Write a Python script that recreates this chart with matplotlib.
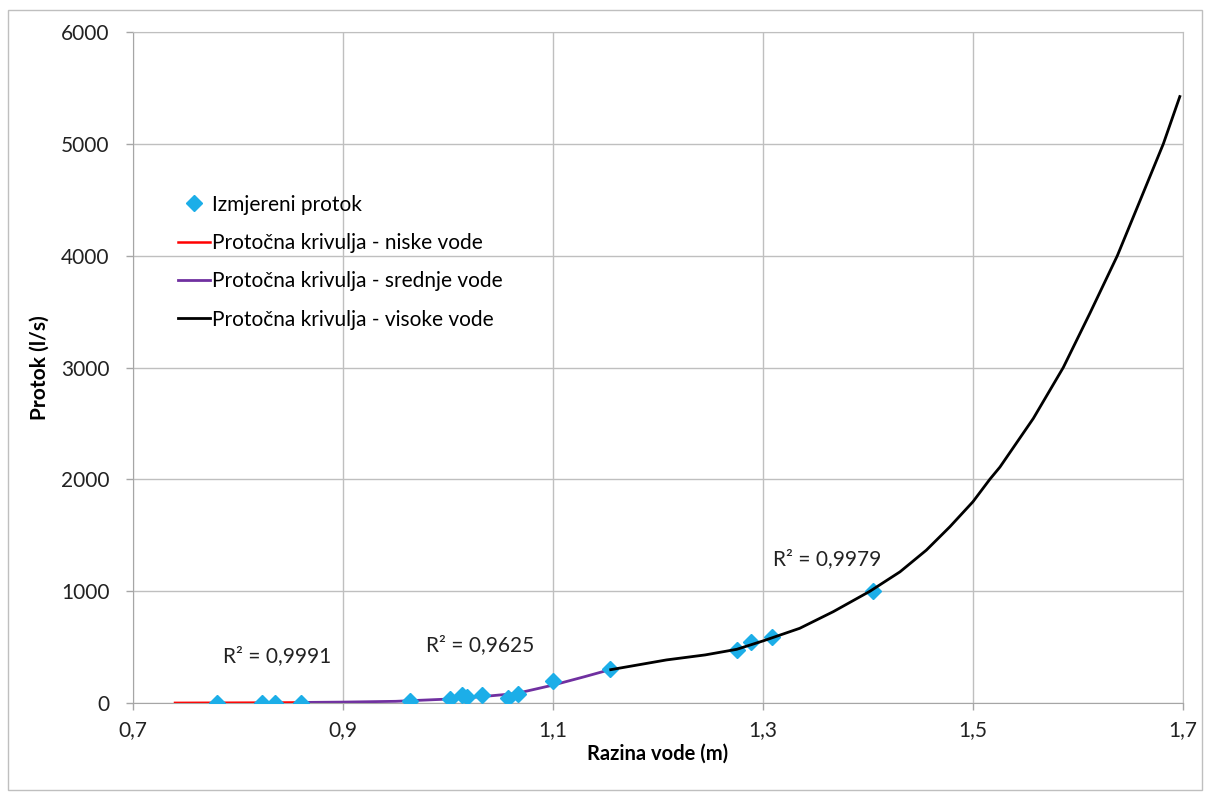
import matplotlib.pyplot as plt
from matplotlib.patches import Rectangle

plt.rcParams['font.family'] = ['Lato', 'DejaVu Sans']

# measured discharge points (water level m, discharge l/s)
razina = [0.78, 0.823, 0.835, 0.86, 0.964, 1.002, 1.013, 1.018, 1.032, 1.057,
          1.067, 1.10, 1.154, 1.275, 1.289, 1.309, 1.405]
protok = [2, 3, 3, 4, 20, 40, 70, 50, 70, 45, 80, 195, 300, 475, 545, 590, 1000]

# rating curves
niske_x = [0.74, 0.78, 0.82, 0.862]
niske_y = [1, 2, 3, 5]
srednje_x = [0.862, 0.9, 0.95, 1.0, 1.03, 1.065, 1.1, 1.13, 1.155]
srednje_y = [5, 8, 15, 35, 55, 85, 160, 235, 300]
visoke_x = [1.155, 1.208, 1.245, 1.275, 1.300, 1.335, 1.367, 1.402, 1.4305, 1.4556,
            1.478, 1.5, 1.516, 1.5257, 1.5575, 1.586, 1.6114, 1.6375, 1.659, 1.6813, 1.697]
visoke_y = [298, 385, 430, 480, 555, 668, 817, 1000, 1173, 1367,
            1576, 1800, 2000, 2110, 2545, 3000, 3486, 4000, 4490, 5000, 5423]

r2_labels = ['R² = 0,9991', 'R² = 0,9625', 'R² = 0,9979']
r2_pos = [(0.837, 420), (1.0305, 520), (1.361, 1290)]

x_ticks = [0.7, 0.9, 1.1, 1.3, 1.5, 1.7]
x_ticklabels = ['0,7', '0,9', '1,1', '1,3', '1,5', '1,7']
y_ticks = [0, 1000, 2000, 3000, 4000, 5000, 6000]

fig = plt.figure(figsize=(12.06, 7.93), dpi=100)
ax = fig.add_axes([0.1103, 0.1135, 0.8706, 0.8461])

ax.plot(razina, protok, 'D', color='#1CAEE8', markersize=8.5, linestyle='none',
        label='Izmjereni protok', zorder=3)
ax.plot(niske_x, niske_y, color='#FF0000', lw=1.8, label='Protočna krivulja - niske vode', zorder=2)
ax.plot(srednje_x, srednje_y, color='#7030A0', lw=2.0, label='Protočna krivulja - srednje vode', zorder=2)
ax.plot(visoke_x, visoke_y, color='black', lw=2.0, label='Protočna krivulja - visoke vode',
        zorder=4, solid_joinstyle='round')

for txt, (tx, ty) in zip(r2_labels, r2_pos):
    ax.text(tx, ty, txt, fontsize=15, ha='center', va='center', color='#222222')

ax.set_xlim(0.7, 1.7)
ax.set_ylim(0, 6000)
ax.set_xticks(x_ticks)
ax.set_xticklabels(x_ticklabels)
ax.set_yticks(y_ticks)
ax.tick_params(labelsize=15, colors='#222222', length=5, width=1, color='#A6A6A6', pad=7)
ax.tick_params(axis='y', pad=12)
ax.grid(True, color='#BFBFBF', lw=1)
ax.set_axisbelow(True)
for s in ax.spines.values():
    s.set_color('#BFBFBF')
ax.spines['left'].set_color('#A6A6A6')
ax.spines['bottom'].set_color('#A6A6A6')

ax.set_xlabel('Razina vode (m)', fontsize=14.5, fontweight='bold', labelpad=3)
ax.set_ylabel('Protok (l/s)', fontsize=15, fontweight='bold', labelpad=8)

leg = ax.legend(loc='upper left', bbox_to_anchor=(0.035, 0.77), frameon=False,
                fontsize=15, handlelength=1.55, handletextpad=0.1, labelspacing=0.88,
                borderaxespad=0)

fig.patches.append(Rectangle((0.007, 0.004), 0.99, 0.984, transform=fig.transFigure,
                             fill=False, edgecolor='#BFBFBF', lw=1))

fig.savefig('out.png', dpi=100)
